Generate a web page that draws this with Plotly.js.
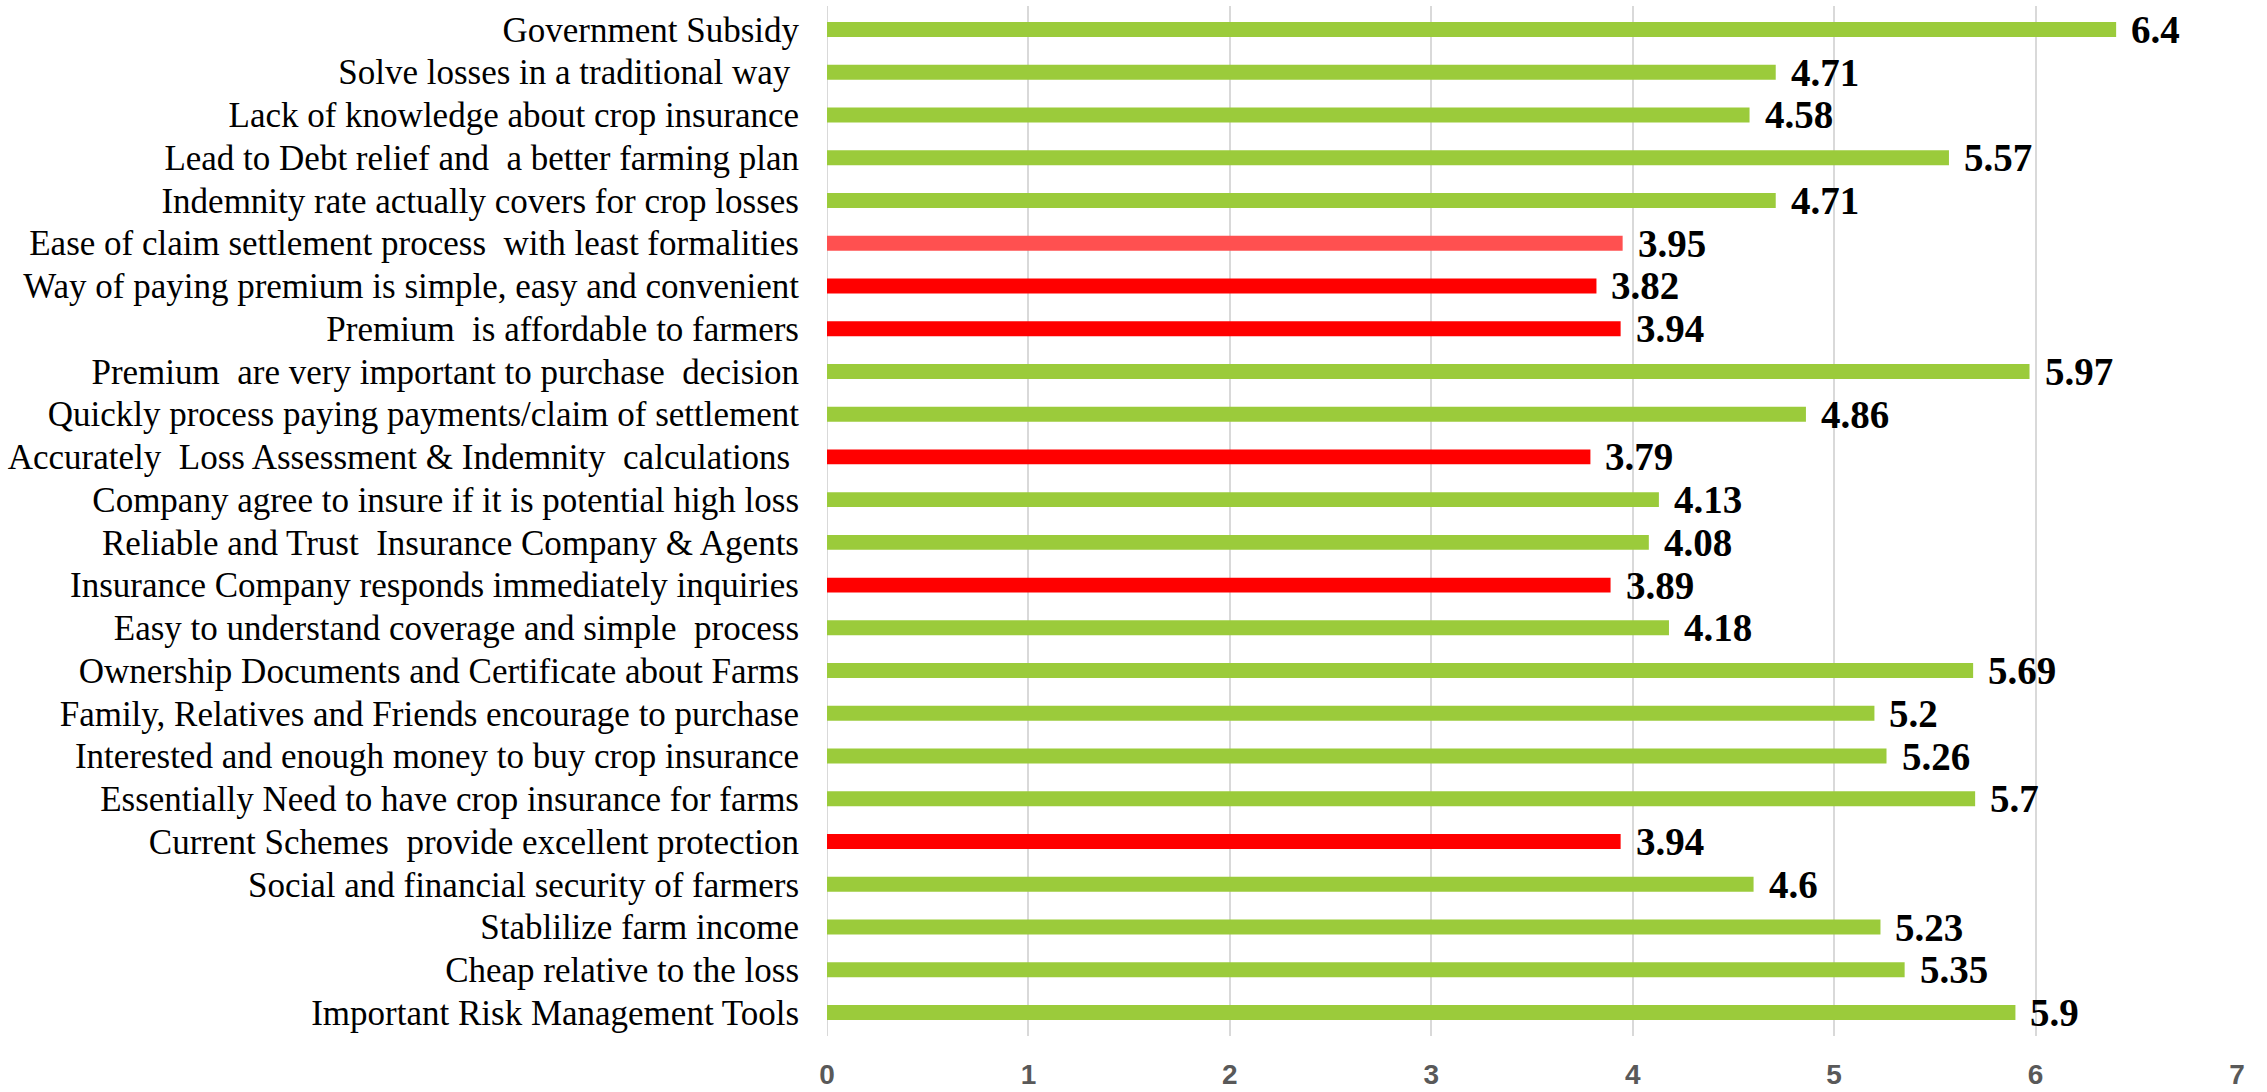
<!DOCTYPE html>
<html>
<head>
<meta charset="utf-8">
<script src="https://cdn.plot.ly/plotly-3.0.1.min.js"></script>
<style>
  html, body { margin: 0; padding: 0; background: #ffffff; }
  #chart { width: 2267px; height: 1092px; }
</style>
</head>
<body>
<div id="chart"></div>
<script>
// Statements, listed from top to bottom
const statements = [
  "Government Subsidy",
  "Solve losses in a traditional way ",
  "Lack of knowledge about crop insurance",
  "Lead to Debt relief and  a better farming plan",
  "Indemnity rate actually covers for crop losses",
  "Ease of claim settlement process  with least formalities",
  "Way of paying premium is simple, easy and convenient",
  "Premium  is affordable to farmers",
  "Premium  are very important to purchase  decision",
  "Quickly process paying payments/claim of settlement",
  "Accurately  Loss Assessment & Indemnity  calculations ",
  "Company agree to insure if it is potential high loss",
  "Reliable and Trust  Insurance Company & Agents",
  "Insurance Company responds immediately inquiries",
  "Easy to understand coverage and simple  process",
  "Ownership Documents and Certificate about Farms",
  "Family, Relatives and Friends encourage to purchase",
  "Interested and enough money to buy crop insurance",
  "Essentially Need to have crop insurance for farms",
  "Current Schemes  provide excellent protection",
  "Social and financial security of farmers",
  "Stablilize farm income",
  "Cheap relative to the loss",
  "Important Risk Management Tools"
];

// Mean scores
const scores = [
  6.4, 4.71, 4.58, 5.57, 4.71, 3.95, 3.82, 3.94, 5.97, 4.86, 3.79, 4.13,
  4.08, 3.89, 4.18, 5.69, 5.2, 5.26, 5.7, 3.94, 4.6, 5.23, 5.35, 5.9
];

// Bar colours: green for positive perception, red for weak points
const barColors = [
  "#9BCB3B", "#9BCB3B", "#9BCB3B", "#9BCB3B", "#9BCB3B", "#FF5050",
  "#FF0000", "#FF0000", "#9BCB3B", "#9BCB3B", "#FF0000", "#9BCB3B",
  "#9BCB3B", "#FF0000", "#9BCB3B", "#9BCB3B", "#9BCB3B", "#9BCB3B",
  "#9BCB3B", "#FF0000", "#9BCB3B", "#9BCB3B", "#9BCB3B", "#9BCB3B"
];

const xTicks = [0, 1, 2, 3, 4, 5, 6, 7];

const trace = {
  type: "bar",
  orientation: "h",
  x: scores,
  y: statements,
  marker: { color: barColors, line: { width: 0 } },
  hoverinfo: "x+y"
};

// Value labels placed just to the right of each bar end
const valueLabels = statements.map((s, i) => ({
  x: scores[i],
  y: s,
  xref: "x",
  yref: "y",
  text: String(scores[i]),
  showarrow: false,
  xanchor: "left",
  yanchor: "middle",
  xshift: 13,
  font: { family: "Liberation Serif, Times New Roman, serif", size: 39, color: "#000000", weight: "bold" }
}));

const layout = {
  width: 2267,
  height: 1092,
  margin: { l: 827, r: 30, t: 6, b: 56, pad: 0 },
  paper_bgcolor: "#ffffff",
  plot_bgcolor: "#ffffff",
  showlegend: false,
  bargap: 0.65,
  xaxis: {
    range: [0, 7],
    tickvals: xTicks,
    ticktext: xTicks.map(String),
    showgrid: true,
    gridcolor: "#D9D9D9",
    gridwidth: 2,
    zeroline: false,
    showline: false,
    ticks: "",
    ticklabelstandoff: 19,
    tickfont: { family: "Liberation Sans, Arial, sans-serif", size: 28, color: "#595959", weight: "bold" },
    fixedrange: true
  },
  yaxis: {
    type: "category",
    autorange: "reversed",
    showgrid: false,
    zeroline: false,
    showline: false,
    ticks: "",
    ticklabelstandoff: 27,
    tickfont: { family: "Liberation Serif, Times New Roman, serif", size: 35, color: "#000000" },
    fixedrange: true
  },
  shapes: [{
    type: "line", xref: "x", yref: "paper",
    x0: 0, x1: 0, y0: 0, y1: 1,
    line: { color: "#D9D9D9", width: 2 },
    layer: "below"
  }],
  annotations: valueLabels
};

Plotly.newPlot("chart", [trace], layout, { displayModeBar: false, staticPlot: true });
</script>
</body>
</html>
